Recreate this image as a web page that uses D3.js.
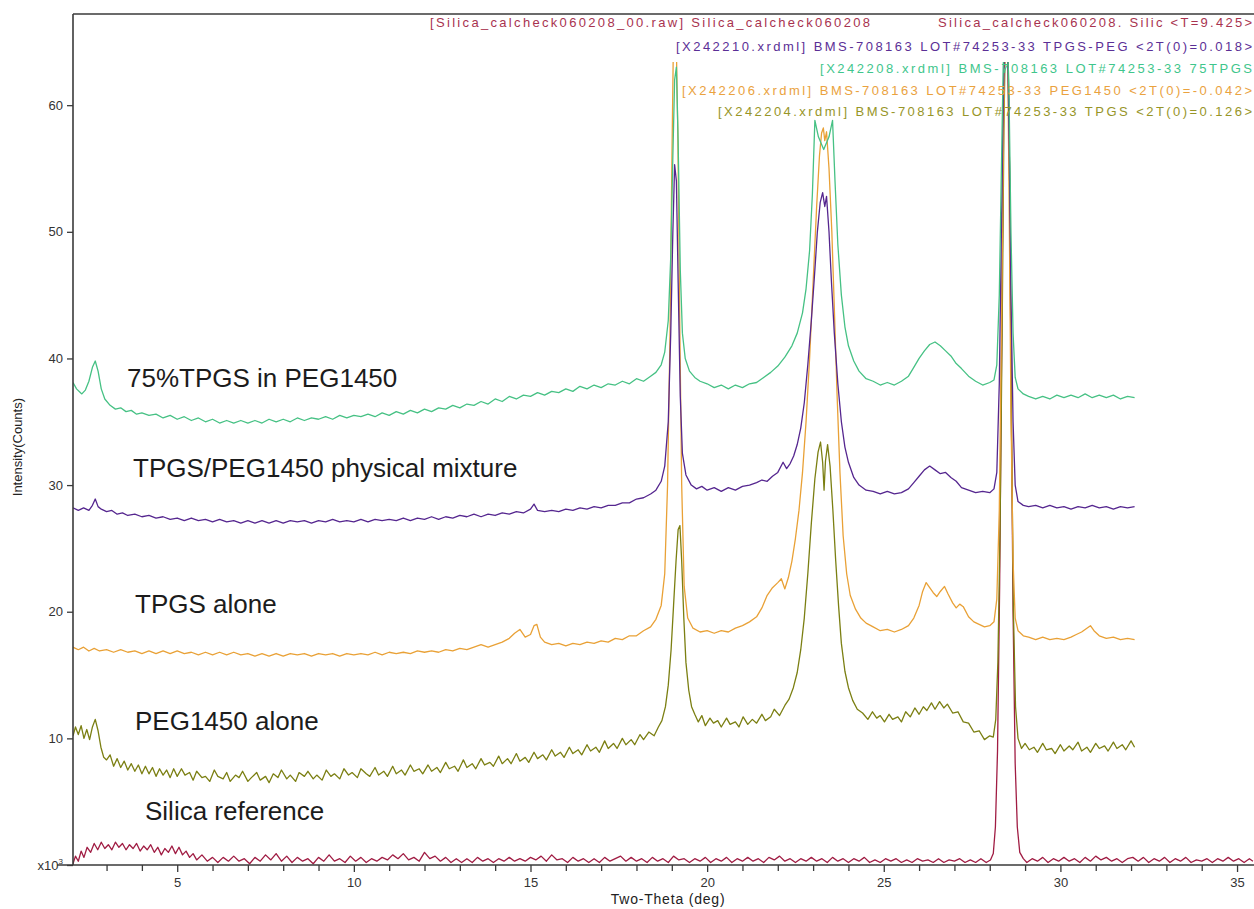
<!DOCTYPE html>
<html>
<head>
<meta charset="utf-8">
<script src="https://cdn.jsdelivr.net/npm/d3@7"></script>
<style>
  html, body { margin: 0; padding: 0; background: #fff; }
  svg { display: block; font-family: Arial, "Liberation Sans", sans-serif; }
</style>
</head>
<body>
<svg id="chart" width="1254" height="909"></svg>
<script>
// Powder XRD patterns, Two-Theta (deg) vs intensity (x10^3 counts), stacked by offset.

const silicaReference = [[2.05,0.1],[2.12,0.7],[2.2,0.3],[2.28,1.1],[2.36,0.6],[2.45,1.4],[2.55,1.0],[2.65,1.7],[2.75,1.2],[2.85,1.8],[2.95,1.3],[3.05,1.6],[3.15,1.2],[3.25,1.8],[3.35,1.4],[3.45,1.7],[3.55,1.2],[3.65,1.6],[3.75,1.3],[3.85,1.7],[3.95,1.1],[4.05,1.5],[4.15,1.2],[4.25,1.6],[4.35,1.0],[4.45,1.4],[4.55,0.8],[4.65,1.3],[4.75,1.0],[4.85,1.5],[4.95,0.9],[5.05,1.4],[5.15,0.8],[5.25,1.1],[5.35,0.6],[5.45,0.9],[5.55,0.4],[5.7,0.8],[5.85,0.3],[6.0,0.6],[6.15,0.2],[6.3,0.6],[6.45,0.3],[6.6,0.7],[6.75,0.3],[6.9,0.5],[7.05,0.1],[7.2,0.6],[7.35,0.3],[7.5,0.8],[7.65,0.4],[7.8,0.9],[7.95,0.3],[8.1,0.7],[8.25,0.2],[8.4,0.6],[8.55,0.3],[8.7,0.5],[8.85,0.1],[9.0,0.6],[9.15,0.3],[9.3,0.8],[9.45,0.3],[9.6,0.5],[9.75,0.2],[9.9,0.7],[10.05,0.3],[10.2,0.6],[10.35,0.2],[10.5,0.5],[10.65,0.3],[10.8,0.6],[10.95,0.4],[11.1,0.8],[11.25,0.5],[11.4,0.9],[11.55,0.4],[11.7,0.6],[11.85,0.3],[12.0,1.0],[12.15,0.5],[12.3,0.7],[12.45,0.3],[12.6,0.6],[12.75,0.2],[12.9,0.5],[13.05,0.2],[13.2,0.5],[13.35,0.2],[13.5,0.6],[13.65,0.3],[13.8,0.5],[13.95,0.2],[14.1,0.5],[14.25,0.3],[14.4,0.6],[14.55,0.3],[14.7,0.5],[14.85,0.3],[15.0,0.6],[15.15,0.4],[15.3,0.7],[15.45,0.3],[15.6,0.8],[15.75,0.4],[15.9,0.5],[16.05,0.2],[16.2,0.6],[16.35,0.3],[16.5,0.5],[16.65,0.2],[16.8,0.5],[16.95,0.2],[17.1,0.6],[17.25,0.3],[17.4,0.5],[17.55,0.7],[17.7,0.3],[17.85,0.6],[18.0,0.3],[18.15,0.5],[18.3,0.2],[18.45,0.6],[18.6,0.3],[18.75,0.5],[18.9,0.2],[19.05,0.7],[19.2,0.4],[19.35,0.5],[19.5,0.2],[19.65,0.5],[19.8,0.3],[19.95,0.6],[20.1,0.2],[20.25,0.5],[20.4,0.3],[20.55,0.6],[20.7,0.2],[20.85,0.5],[21.0,0.3],[21.15,0.6],[21.3,0.3],[21.45,0.5],[21.6,0.2],[21.75,0.6],[21.9,0.4],[22.05,0.7],[22.2,0.3],[22.35,0.5],[22.5,0.2],[22.65,0.5],[22.8,0.3],[22.95,0.6],[23.1,0.3],[23.25,0.5],[23.4,0.2],[23.55,0.6],[23.7,0.3],[23.85,0.5],[24.0,0.2],[24.15,0.5],[24.3,0.3],[24.45,0.6],[24.6,0.2],[24.75,0.4],[24.9,0.2],[25.05,0.5],[25.2,0.3],[25.35,0.5],[25.5,0.2],[25.65,0.4],[25.8,0.2],[25.95,0.5],[26.1,0.3],[26.25,0.4],[26.4,0.2],[26.55,0.5],[26.7,0.2],[26.85,0.4],[27.0,0.3],[27.15,0.5],[27.3,0.2],[27.45,0.4],[27.6,0.2],[27.75,0.5],[27.9,0.2],[28.02,0.4],[28.1,0.9],[28.16,3],[28.22,9],[28.28,22],[28.34,42],[28.39,60],[28.44,67],[28.5,67],[28.55,58],[28.6,40],[28.66,20],[28.72,8],[28.78,3],[28.85,1.0],[28.95,0.5],[29.05,0.2],[29.2,0.5],[29.35,0.3],[29.5,0.6],[29.65,0.2],[29.8,0.5],[29.95,0.3],[30.1,0.6],[30.25,0.3],[30.4,0.5],[30.55,0.2],[30.7,0.6],[30.85,0.3],[31.0,0.7],[31.15,0.4],[31.3,0.6],[31.45,0.3],[31.6,0.5],[31.75,0.2],[31.9,0.5],[32.05,0.6],[32.2,0.3],[32.35,0.6],[32.5,0.2],[32.65,0.5],[32.8,0.3],[32.95,0.6],[33.1,0.2],[33.25,0.5],[33.4,0.3],[33.55,0.6],[33.7,0.2],[33.85,0.4],[34.0,0.3],[34.15,0.5],[34.3,0.2],[34.45,0.5],[34.6,0.3],[34.75,0.6],[34.9,0.3],[35.05,0.5],[35.2,0.2],[35.35,0.5],[35.45,0.3]];

const peg1450Alone = [[2.05,10.2],[2.12,10.9],[2.2,10.3],[2.28,11.0],[2.36,10.0],[2.44,10.7],[2.52,9.9],[2.6,10.9],[2.68,11.5],[2.76,10.6],[2.84,9.3],[2.92,8.5],[3.0,8.3],[3.1,8.7],[3.2,7.8],[3.3,8.4],[3.4,7.7],[3.5,8.2],[3.6,7.5],[3.7,8.0],[3.8,7.4],[3.9,7.9],[4.0,7.2],[4.1,7.8],[4.2,7.2],[4.3,7.7],[4.4,7.0],[4.5,7.6],[4.6,7.1],[4.7,7.5],[4.8,6.9],[4.9,7.6],[5.0,7.0],[5.12,7.6],[5.22,7.1],[5.35,7.3],[5.45,6.7],[5.55,7.4],[5.7,6.9],[5.8,7.0],[5.92,6.6],[6.05,7.5],[6.15,7.0],[6.3,6.8],[6.4,7.3],[6.5,6.6],[6.65,7.1],[6.75,6.9],[6.85,7.4],[7.0,6.6],[7.1,6.9],[7.25,7.3],[7.35,6.7],[7.5,7.0],[7.6,6.5],[7.72,7.2],[7.85,6.9],[7.95,7.5],[8.1,6.8],[8.2,7.1],[8.35,6.6],[8.45,7.3],[8.6,7.0],[8.7,7.4],[8.85,6.8],[8.95,7.1],[9.1,6.7],[9.22,7.5],[9.35,7.0],[9.45,7.2],[9.6,6.8],[9.72,7.6],[9.85,7.1],[9.95,7.3],[10.1,6.9],[10.2,7.6],[10.35,7.2],[10.45,7.0],[10.6,7.7],[10.7,7.1],[10.85,7.4],[10.95,7.0],[11.1,7.8],[11.2,7.2],[11.35,7.5],[11.45,7.1],[11.6,7.9],[11.7,7.4],[11.85,7.6],[11.95,7.2],[12.1,7.9],[12.2,7.4],[12.35,7.7],[12.45,7.3],[12.6,8.1],[12.7,7.6],[12.85,7.8],[12.95,7.4],[13.1,8.3],[13.2,7.7],[13.35,8.0],[13.45,7.6],[13.6,8.4],[13.7,7.9],[13.85,8.1],[13.95,7.8],[14.1,8.6],[14.2,8.0],[14.35,8.4],[14.45,8.0],[14.6,8.8],[14.7,8.2],[14.85,8.5],[14.95,8.1],[15.1,8.9],[15.2,8.4],[15.35,8.7],[15.45,8.3],[15.6,9.1],[15.7,8.6],[15.85,8.9],[15.95,8.5],[16.1,9.3],[16.2,8.8],[16.35,9.1],[16.45,8.7],[16.6,9.5],[16.7,9.0],[16.85,9.3],[16.95,8.9],[17.1,9.8],[17.2,9.2],[17.35,9.6],[17.45,9.2],[17.6,10.0],[17.7,9.5],[17.85,9.9],[17.95,9.5],[18.1,10.3],[18.2,9.9],[18.35,10.5],[18.5,10.2],[18.62,10.9],[18.72,11.4],[18.82,12.5],[18.9,14.2],[18.98,17],[19.05,20.5],[19.12,24],[19.18,26.5],[19.23,26.8],[19.28,24],[19.34,19.5],[19.4,16],[19.48,13.8],[19.56,12.5],[19.65,11.9],[19.75,11.3],[19.85,11.8],[19.95,11.0],[20.08,11.6],[20.18,11.2],[20.3,11.4],[20.4,10.9],[20.55,11.6],[20.65,11.1],[20.8,11.3],[20.9,10.9],[21.02,11.7],[21.15,11.1],[21.28,11.5],[21.4,11.2],[21.55,11.9],[21.65,11.4],[21.8,11.7],[21.9,12.3],[22.05,11.8],[22.2,12.6],[22.32,13.1],[22.44,14.0],[22.55,15.2],[22.65,17],[22.75,19.5],[22.85,23],[22.95,27],[23.05,30.5],[23.14,32.6],[23.21,33.4],[23.27,31.8],[23.31,29.6],[23.35,31.9],[23.41,33.2],[23.48,31.5],[23.56,28],[23.64,24],[23.72,20.5],[23.8,17.5],[23.9,15.3],[24.0,14.0],[24.12,13.0],[24.25,12.3],[24.4,12.0],[24.55,11.5],[24.68,12.1],[24.8,11.6],[24.9,11.8],[25.02,11.3],[25.15,11.9],[25.25,11.5],[25.4,11.7],[25.5,11.3],[25.62,12.1],[25.75,11.7],[25.88,12.4],[26.0,11.9],[26.12,12.5],[26.22,12.2],[26.35,12.8],[26.45,12.3],[26.58,12.9],[26.7,12.4],[26.8,12.7],[26.95,12.0],[27.1,12.1],[27.25,11.3],[27.4,11.2],[27.55,10.5],[27.7,10.6],[27.85,9.9],[28.0,10.2],[28.1,10.1],[28.17,11.5],[28.23,16],[28.29,26],[28.35,42],[28.4,58],[28.45,67],[28.51,67],[28.56,55],[28.61,36],[28.67,20],[28.73,12.5],[28.8,10.0],[28.9,9.2],[29.0,9.6],[29.12,9.1],[29.25,9.3],[29.35,8.9],[29.5,9.6],[29.6,9.1],[29.75,9.2],[29.85,8.8],[30.0,9.5],[30.1,9.0],[30.25,9.4],[30.35,9.1],[30.5,9.7],[30.6,9.0],[30.75,9.3],[30.85,8.9],[31.0,9.6],[31.1,9.2],[31.25,9.4],[31.35,9.0],[31.5,9.7],[31.6,9.2],[31.75,9.5],[31.85,9.1],[32.0,9.8],[32.1,9.3]];

const tpgsAlone = [[2.05,17.2],[2.2,17.0],[2.35,17.2],[2.5,16.9],[2.65,17.1],[2.8,16.9],[3.0,17.0],[3.2,16.8],[3.4,17.0],[3.6,16.8],[3.8,16.9],[4.0,16.7],[4.2,16.9],[4.4,16.7],[4.6,16.9],[4.8,16.7],[5.0,16.9],[5.2,16.7],[5.4,16.8],[5.6,16.6],[5.8,16.8],[6.0,16.6],[6.2,16.8],[6.4,16.6],[6.6,16.8],[6.8,16.6],[7.0,16.7],[7.2,16.5],[7.4,16.7],[7.6,16.5],[7.8,16.7],[8.0,16.5],[8.2,16.7],[8.4,16.6],[8.6,16.7],[8.8,16.5],[9.0,16.7],[9.2,16.6],[9.4,16.7],[9.6,16.5],[9.8,16.7],[10.0,16.6],[10.2,16.7],[10.4,16.6],[10.6,16.8],[10.8,16.6],[11.0,16.8],[11.2,16.7],[11.4,16.8],[11.6,16.7],[11.8,16.9],[12.0,16.8],[12.2,16.9],[12.4,16.8],[12.6,17.0],[12.8,16.9],[13.0,17.1],[13.2,17.0],[13.4,17.2],[13.6,17.4],[13.8,17.2],[14.0,17.4],[14.2,17.6],[14.4,17.9],[14.55,18.3],[14.7,18.6],[14.85,18.0],[15.0,18.2],[15.1,18.9],[15.18,19.0],[15.28,18.0],[15.4,17.6],[15.6,17.4],[15.8,17.5],[16.0,17.3],[16.2,17.5],[16.4,17.4],[16.6,17.6],[16.8,17.5],[17.0,17.7],[17.2,17.6],[17.4,17.9],[17.6,17.8],[17.8,18.1],[18.0,18.1],[18.2,18.5],[18.4,18.8],[18.55,19.4],[18.7,20.5],[18.8,23],[18.88,30],[18.95,42],[19.0,55],[19.05,66],[19.12,66],[19.17,58],[19.22,44],[19.28,30],[19.35,22],[19.45,19.5],[19.6,18.7],[19.8,18.4],[20.0,18.5],[20.2,18.3],[20.4,18.5],[20.6,18.4],[20.8,18.7],[21.0,18.9],[21.2,19.2],[21.4,19.6],[21.55,20.3],[21.7,21.3],[21.85,21.9],[22.0,22.3],[22.1,22.6],[22.2,21.8],[22.3,22.7],[22.4,24.0],[22.5,25.8],[22.6,28.0],[22.7,31.0],[22.8,35.0],[22.9,40.0],[23.0,46.0],[23.1,52.0],[23.18,56.0],[23.24,57.8],[23.29,58.2],[23.33,57.2],[23.38,57.9],[23.45,55],[23.53,50],[23.6,44],[23.68,37],[23.76,31],[23.85,26],[23.95,23],[24.05,21.3],[24.2,20.2],[24.35,19.5],[24.5,19.1],[24.7,18.8],[24.9,18.5],[25.1,18.6],[25.3,18.4],[25.5,18.6],[25.7,18.9],[25.85,19.5],[26.0,20.5],[26.1,21.6],[26.2,22.3],[26.3,21.9],[26.4,21.5],[26.5,21.2],[26.6,21.6],[26.72,22.0],[26.82,21.4],[26.95,20.7],[27.05,20.3],[27.15,20.6],[27.25,20.4],[27.4,19.6],[27.55,19.2],[27.7,19.0],[27.85,18.8],[28.0,18.9],[28.12,19.2],[28.2,21],[28.27,28],[28.33,42],[28.38,55],[28.43,66],[28.5,66],[28.55,52],[28.6,36],[28.66,24],[28.72,19.5],[28.8,18.5],[28.95,18.1],[29.1,18.0],[29.3,17.8],[29.5,18.0],[29.7,17.8],[29.9,17.9],[30.1,17.8],[30.3,18.0],[30.45,18.2],[30.6,18.4],[30.75,18.7],[30.85,18.9],[30.95,18.5],[31.1,18.1],[31.3,17.9],[31.5,18.0],[31.7,17.8],[31.9,17.9],[32.1,17.8]];

const physicalMixture = [[2.05,28.2],[2.2,28.0],[2.35,28.2],[2.5,28.0],[2.6,28.4],[2.68,28.9],[2.76,28.3],[2.85,28.1],[3.0,27.9],[3.15,28.0],[3.3,27.7],[3.45,27.8],[3.6,27.6],[3.8,27.7],[4.0,27.5],[4.2,27.6],[4.4,27.4],[4.6,27.5],[4.8,27.3],[5.0,27.4],[5.2,27.2],[5.4,27.4],[5.6,27.2],[5.8,27.3],[6.0,27.1],[6.2,27.3],[6.4,27.1],[6.6,27.2],[6.8,27.0],[7.0,27.2],[7.2,27.0],[7.4,27.2],[7.6,27.0],[7.8,27.2],[8.0,27.0],[8.2,27.2],[8.4,27.1],[8.6,27.2],[8.8,27.0],[9.0,27.2],[9.2,27.1],[9.4,27.3],[9.6,27.1],[9.8,27.2],[10.0,27.1],[10.2,27.3],[10.4,27.1],[10.6,27.3],[10.8,27.2],[11.0,27.3],[11.2,27.2],[11.4,27.4],[11.6,27.2],[11.8,27.4],[12.0,27.3],[12.2,27.5],[12.4,27.3],[12.6,27.5],[12.8,27.4],[13.0,27.6],[13.2,27.5],[13.4,27.7],[13.6,27.5],[13.8,27.7],[14.0,27.6],[14.2,27.8],[14.4,27.7],[14.6,27.9],[14.8,27.8],[15.0,28.1],[15.1,28.5],[15.2,28.0],[15.4,27.9],[15.6,28.0],[15.8,27.9],[16.0,28.1],[16.2,28.0],[16.4,28.2],[16.6,28.1],[16.8,28.3],[17.0,28.2],[17.2,28.4],[17.4,28.4],[17.6,28.6],[17.8,28.6],[18.0,28.9],[18.2,29.0],[18.4,29.3],[18.55,29.6],[18.7,30.3],[18.8,31.5],[18.9,35],[18.97,42],[19.03,50],[19.08,55.3],[19.13,54],[19.18,46],[19.24,37],[19.3,32.5],[19.4,30.8],[19.55,30.0],[19.7,29.7],[19.85,29.9],[20.0,29.6],[20.2,29.8],[20.4,29.5],[20.6,29.8],[20.8,29.6],[21.0,29.9],[21.2,30.0],[21.4,30.2],[21.55,30.4],[21.7,30.3],[21.85,30.7],[22.0,31.0],[22.15,31.8],[22.25,31.3],[22.35,31.7],[22.45,32.3],[22.55,33.2],[22.65,34.5],[22.75,36.5],[22.85,39.5],[22.95,43],[23.05,47],[23.12,50],[23.2,52.3],[23.27,53.1],[23.33,52.0],[23.38,52.8],[23.45,50],[23.52,46],[23.6,42],[23.7,38],[23.8,35],[23.9,33],[24.0,31.8],[24.15,30.6],[24.3,30.0],[24.5,29.6],[24.7,29.5],[24.9,29.3],[25.1,29.5],[25.3,29.3],[25.5,29.4],[25.7,29.7],[25.85,30.2],[26.0,30.7],[26.15,31.2],[26.3,31.5],[26.45,31.2],[26.6,30.9],[26.75,31.0],[26.9,30.6],[27.05,30.3],[27.2,29.8],[27.4,29.6],[27.6,29.4],[27.8,29.5],[28.0,29.4],[28.12,29.7],[28.2,31],[28.27,38],[28.33,50],[28.38,60],[28.43,66],[28.5,66],[28.55,57],[28.6,45],[28.66,35],[28.72,30],[28.8,28.7],[28.95,28.4],[29.1,28.3],[29.3,28.4],[29.5,28.2],[29.7,28.4],[29.9,28.2],[30.1,28.3],[30.3,28.1],[30.5,28.3],[30.7,28.2],[30.9,28.4],[31.1,28.2],[31.3,28.3],[31.5,28.1],[31.7,28.3],[31.9,28.2],[32.1,28.3]];

const tpgs75InPeg = [[2.05,38.1],[2.15,37.6],[2.3,37.2],[2.4,37.5],[2.5,38.2],[2.6,39.3],[2.68,39.8],[2.76,39.0],[2.85,37.6],[2.95,36.8],[3.1,36.3],[3.25,36.0],[3.4,36.1],[3.55,35.8],[3.7,35.9],[3.85,35.6],[4.0,35.7],[4.2,35.5],[4.4,35.6],[4.6,35.3],[4.8,35.5],[5.0,35.2],[5.2,35.4],[5.4,35.1],[5.6,35.3],[5.8,35.0],[6.0,35.2],[6.2,34.9],[6.4,35.1],[6.6,34.9],[6.8,35.1],[7.0,34.9],[7.2,35.1],[7.4,34.9],[7.6,35.2],[7.8,35.0],[8.0,35.2],[8.2,35.0],[8.4,35.3],[8.6,35.1],[8.8,35.3],[9.0,35.2],[9.2,35.4],[9.4,35.2],[9.6,35.5],[9.8,35.3],[10.0,35.5],[10.2,35.4],[10.4,35.6],[10.6,35.4],[10.8,35.7],[11.0,35.5],[11.2,35.8],[11.4,35.6],[11.6,35.9],[11.8,35.7],[12.0,36.0],[12.2,35.8],[12.4,36.1],[12.6,36.0],[12.8,36.3],[13.0,36.1],[13.2,36.4],[13.4,36.3],[13.6,36.6],[13.8,36.4],[14.0,36.8],[14.2,36.6],[14.4,37.0],[14.6,36.8],[14.8,37.1],[15.0,37.0],[15.2,37.3],[15.4,37.1],[15.6,37.4],[15.8,37.3],[16.0,37.6],[16.2,37.4],[16.4,37.8],[16.6,37.6],[16.8,37.9],[17.0,37.7],[17.2,38.0],[17.4,37.9],[17.6,38.2],[17.8,38.0],[18.0,38.4],[18.2,38.2],[18.4,38.6],[18.55,38.9],[18.7,39.5],[18.8,40.5],[18.9,43],[18.97,48],[19.03,56],[19.08,62],[19.13,63],[19.18,57],[19.24,47],[19.3,42],[19.38,40],[19.5,39.0],[19.65,38.5],[19.8,38.2],[20.0,38.0],[20.2,37.7],[20.4,37.9],[20.6,37.6],[20.8,37.9],[21.0,37.7],[21.2,38.0],[21.4,38.1],[21.6,38.5],[21.8,38.9],[22.0,39.4],[22.2,40.1],[22.4,41.0],[22.55,42.0],[22.7,43.6],[22.8,45.5],[22.9,48.5],[22.98,53],[23.05,58.8],[23.15,57.5],[23.3,56.5],[23.45,57.5],[23.55,58.8],[23.62,54],[23.7,49],[23.8,45],[23.9,42.5],[24.0,41.0],[24.15,39.8],[24.3,39.0],[24.5,38.4],[24.7,38.2],[24.9,37.9],[25.1,38.1],[25.3,37.9],[25.5,38.2],[25.7,38.6],[25.85,39.3],[26.0,40.0],[26.15,40.6],[26.3,41.1],[26.45,41.3],[26.6,41.0],[26.75,40.6],[26.9,40.2],[27.05,39.6],[27.2,39.2],[27.4,38.6],[27.6,38.2],[27.8,37.9],[28.0,38.1],[28.12,38.3],[28.2,39.5],[28.27,45],[28.33,55],[28.38,63],[28.43,66],[28.5,66],[28.55,60],[28.6,50],[28.66,42],[28.72,38.5],[28.8,37.6],[28.95,37.2],[29.1,37.0],[29.3,36.8],[29.5,37.0],[29.7,36.8],[29.9,37.1],[30.1,36.9],[30.3,37.1],[30.5,36.9],[30.7,37.2],[30.9,36.9],[31.1,37.1],[31.3,36.9],[31.5,37.1],[31.7,36.8],[31.9,37.0],[32.1,36.9]];

const yTickValues = [0, 10, 20, 30, 40, 50, 60];
const xMajorTicks = [5, 10, 15, 20, 25, 30, 35];
const xMinorTicks = [3,4,6,7,8,9,11,12,13,14,16,17,18,19,21,22,23,24,26,27,28,29,31,32,33,34];

const patternNames = ["75%TPGS in PEG1450", "TPGS/PEG1450 physical mixture", "TPGS alone", "PEG1450 alone", "Silica reference"];

const fileLegendRows = [
  { text: "[Silica_calcheck060208_00.raw] Silica_calcheck060208", color: "#a8334f", anchor: "start", x: 430, width: 440 },
  { text: "Silica_calcheck060208. Silic <T=9.425>", color: "#a8334f", anchor: "end", x: 1252, width: 314 },
  { text: "[X242210.xrdml] BMS-708163 LOT#74253-33 TPGS-PEG <2T(0)=0.018>", color: "#5b2f96", anchor: "end", x: 1252, width: 576 },
  { text: "[X242208.xrdml] BMS-708163 LOT#74253-33 75TPGS", color: "#3fc68c", anchor: "end", x: 1252, width: 432 },
  { text: "[X242206.xrdml] BMS-708163 LOT#74253-33 PEG1450 <2T(0)=-0.042>", color: "#eaa23e", anchor: "end", x: 1252, width: 570 },
  { text: "[X242204.xrdml] BMS-708163 LOT#74253-33 TPGS <2T(0)=0.126>", color: "#979528", anchor: "end", x: 1252, width: 534 }
];
const fileLegendRowIndex = [0, 0, 1, 2, 3, 4];

const svg = d3.select("#chart");
const W = 1254, H = 909;

const x = d3.scaleLinear().domain([2.05, 35.48]).range([73, 1254]);
const y = d3.scaleLinear().domain([0, 67.2]).range([865, 14]);

const axisColor = "#3a3a3a";

// clip so the strong reflections end just under the file-name header
svg.append("defs").append("clipPath").attr("id", "plotClip")
  .append("rect")
  .attr("x", x(2.05)).attr("y", y(63.4))
  .attr("width", x(35.48) - x(2.05)).attr("height", y(-0.2) - y(63.4));

const series = [
  { data: silicaReference, color: "#a01c43" },
  { data: peg1450Alone, color: "#7b7f12" },
  { data: tpgsAlone, color: "#e9a136" },
  { data: physicalMixture, color: "#55268f" },
  { data: tpgs75InPeg, color: "#46c184" }
];

const line = d3.line().x(d => x(d[0])).y(d => y(d[1]));

const plot = svg.append("g").attr("clip-path", "url(#plotClip)");
plot.selectAll("path.pattern")
  .data(series)
  .join("path")
  .attr("class", "pattern")
  .attr("d", d => line(d.data))
  .attr("fill", "none")
  .attr("stroke", d => d.color)
  .attr("stroke-width", 1.3)
  .attr("stroke-linejoin", "round");

// frame: top border and the left axis
svg.append("line")
  .attr("x1", x(2.05)).attr("x2", W)
  .attr("y1", y(67.2)).attr("y2", y(67.2))
  .attr("stroke", axisColor).attr("stroke-width", 1.6);

const yAxis = d3.axisLeft(y).tickValues(yTickValues).tickSize(6).tickPadding(4)
  .tickFormat(d => d === 0 ? "" : d3.format("d")(d));
const gy = svg.append("g").attr("transform", `translate(${x(2.05)},0)`).call(yAxis);
gy.select(".domain").attr("stroke", axisColor).attr("stroke-width", 1.6)
  .attr("d", `M0,${y(67.2)}V${y(0)}`);
gy.selectAll(".tick line").attr("stroke", axisColor).attr("stroke-width", 1.3);
gy.selectAll(".tick text").attr("fill", "#333").style("font-size", "13px")
  .style("font-family", "Arial, 'Liberation Sans', sans-serif");

// "x10^3" multiplier at the origin
const mult = svg.append("text")
  .attr("x", x(2.05) - 10).attr("y", y(0) + 5)
  .attr("text-anchor", "end")
  .attr("fill", "#333").style("font-size", "13px");
mult.append("tspan").text("x10");
mult.append("tspan").attr("dy", -6).style("font-size", "8px").text("3");

const xAxis = d3.axisBottom(x).tickValues(xMajorTicks).tickSize(7).tickPadding(6)
  .tickFormat(d3.format("d"));
const gx = svg.append("g").attr("transform", `translate(0,${y(0)})`).call(xAxis);
gx.select(".domain").attr("stroke", axisColor).attr("stroke-width", 1.6)
  .attr("d", `M${x(2.05) - 16},0H${W}`);
gx.selectAll(".tick line").attr("stroke", axisColor).attr("stroke-width", 1.3);
gx.selectAll(".tick text").attr("fill", "#333").style("font-size", "13px")
  .style("font-family", "Arial, 'Liberation Sans', sans-serif");

const xMinor = d3.axisBottom(x).tickValues(xMinorTicks).tickSize(6).tickFormat("");
const gxm = svg.append("g").attr("transform", `translate(0,${y(0)})`).call(xMinor);
gxm.select(".domain").remove();
gxm.selectAll(".tick line").attr("stroke", axisColor).attr("stroke-width", 1.3);

// axis titles
svg.append("text")
  .attr("transform", `translate(22,${y(33)}) rotate(-90)`)
  .attr("text-anchor", "middle")
  .attr("fill", "#222").style("font-size", "13px")
  .text("Intensity(Counts)");

svg.append("text")
  .attr("x", 668).attr("y", 904)
  .attr("text-anchor", "middle")
  .attr("fill", "#222").style("font-size", "14px").style("letter-spacing", "0.8px")
  .text("Two-Theta (deg)");

// sample names written beside each pattern
const nameX = [127, 133, 135, 135, 145];
const nameBaseline = [387, 477, 613, 730, 820];
svg.selectAll("text.pattern-name")
  .data(patternNames)
  .join("text")
  .attr("class", "pattern-name")
  .attr("x", (d, i) => nameX[i])
  .attr("y", (d, i) => nameBaseline[i])
  .attr("fill", "#1c1c1c")
  .style("font-size", "26px")
  .text(d => d);

// file header lines
const rowBaselines = [27, 51, 73, 95, 116];
svg.selectAll("text.file-row")
  .data(fileLegendRows)
  .join("text")
  .attr("class", "file-row")
  .attr("x", d => d.x)
  .attr("y", (d, i) => rowBaselines[fileLegendRowIndex[i]])
  .attr("text-anchor", d => d.anchor)
  .attr("textLength", d => d.width)
  .attr("lengthAdjust", "spacing")
  .attr("fill", d => d.color)
  .style("font-size", "13px")
  .text(d => d.text);
</script>
</body>
</html>
